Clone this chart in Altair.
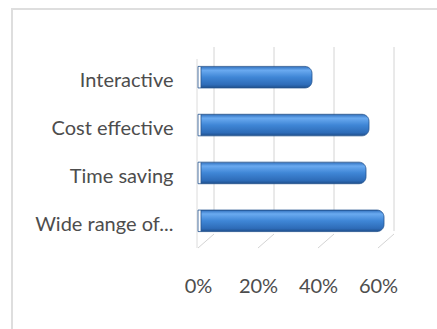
import altair as alt
import pandas as pd

categories = ["Interactive", "Cost effective", "Time saving", "Wide range of..."]
values = [0.38, 0.57, 0.56, 0.62]
ticks = [0.0, 0.2, 0.4, 0.6]

df = pd.DataFrame({"cat": categories, "val": values})
tdf = pd.DataFrame({"t": ticks})

W, H = 180, 192
PL, PT = 198, 53
DX, DY = 16, 14

xscale = alt.Scale(domain=[0, 0.6], nice=False, clamp=False)

frame = alt.Chart(pd.DataFrame({"a": [0]})).mark_rect(
    fill=None, stroke="#dedede", strokeWidth=2
).encode(
    x=alt.value(12 - PL), x2=alt.value(600), y=alt.value(9 - PT), y2=alt.value(600)
)

back = alt.Chart(tdf).mark_rule(color="#d4d4d4", strokeWidth=1, xOffset=DX).encode(
    x=alt.X("t:Q", scale=xscale),
    y=alt.value(-DY + 8), y2=alt.value(H - DY),
)

floor = alt.Chart(tdf).mark_rule(color="#d4d4d4", strokeWidth=1, x2Offset=DX).encode(
    x=alt.X("t:Q", scale=xscale), x2="t:Q",
    y=alt.value(H + 3), y2=alt.value(H + 3 - DY),
)

leftwall = alt.Chart(pd.DataFrame({"t": [0.0]})).mark_rule(color="#dcdcdc", strokeWidth=1, xOffset=-1).encode(
    x=alt.X("t:Q", scale=xscale),
    y=alt.value(6), y2=alt.value(H + 3),
)

grad = alt.Gradient(
    gradient="linear",
    x1=0, x2=0, y1=0, y2=1,
    stops=[
        alt.GradientStop(color="#2f6fbd", offset=0),
        alt.GradientStop(color="#6aaaf0", offset=0.18),
        alt.GradientStop(color="#3f86d6", offset=0.5),
        alt.GradientStop(color="#2e6cb8", offset=0.85),
        alt.GradientStop(color="#1f4f8c", offset=1),
    ],
)

bars = alt.Chart(df).mark_bar(
    fill=grad, stroke="#24548f", strokeWidth=0.8, cornerRadiusEnd=7, xOffset=3, clip=False
).encode(
    y=alt.Y("cat:N", sort=categories,
            scale=alt.Scale(paddingInner=0.55, paddingOuter=0.28),
            axis=alt.Axis(title=None, domain=False, ticks=False, labelPadding=25,
                          labelOffset=4,
                          labelFont="Lato", labelFontSize=20, labelColor="#4d4d4d",
                          labelLimit=220)),
    x=alt.X("val:Q", scale=xscale,
            axis=alt.Axis(title=None, domain=False, ticks=False, grid=False,
                          values=ticks, format=".0%", labelPadding=31, labelFlush=False,
                          labelFont="Lato", labelFontSize=20, labelColor="#4d4d4d")),
)

chart = alt.layer(frame, back, floor, leftwall, bars).properties(
    width=W, height=H,
    autosize=alt.AutoSizeParams(type="none"),
    padding={"left": PL, "top": PT, "right": 437 - PL - W, "bottom": 329 - PT - H},
    background="white",
).configure_view(stroke=None)

chart.save("out.html", embed_options={"renderer": "svg", "actions": False})
